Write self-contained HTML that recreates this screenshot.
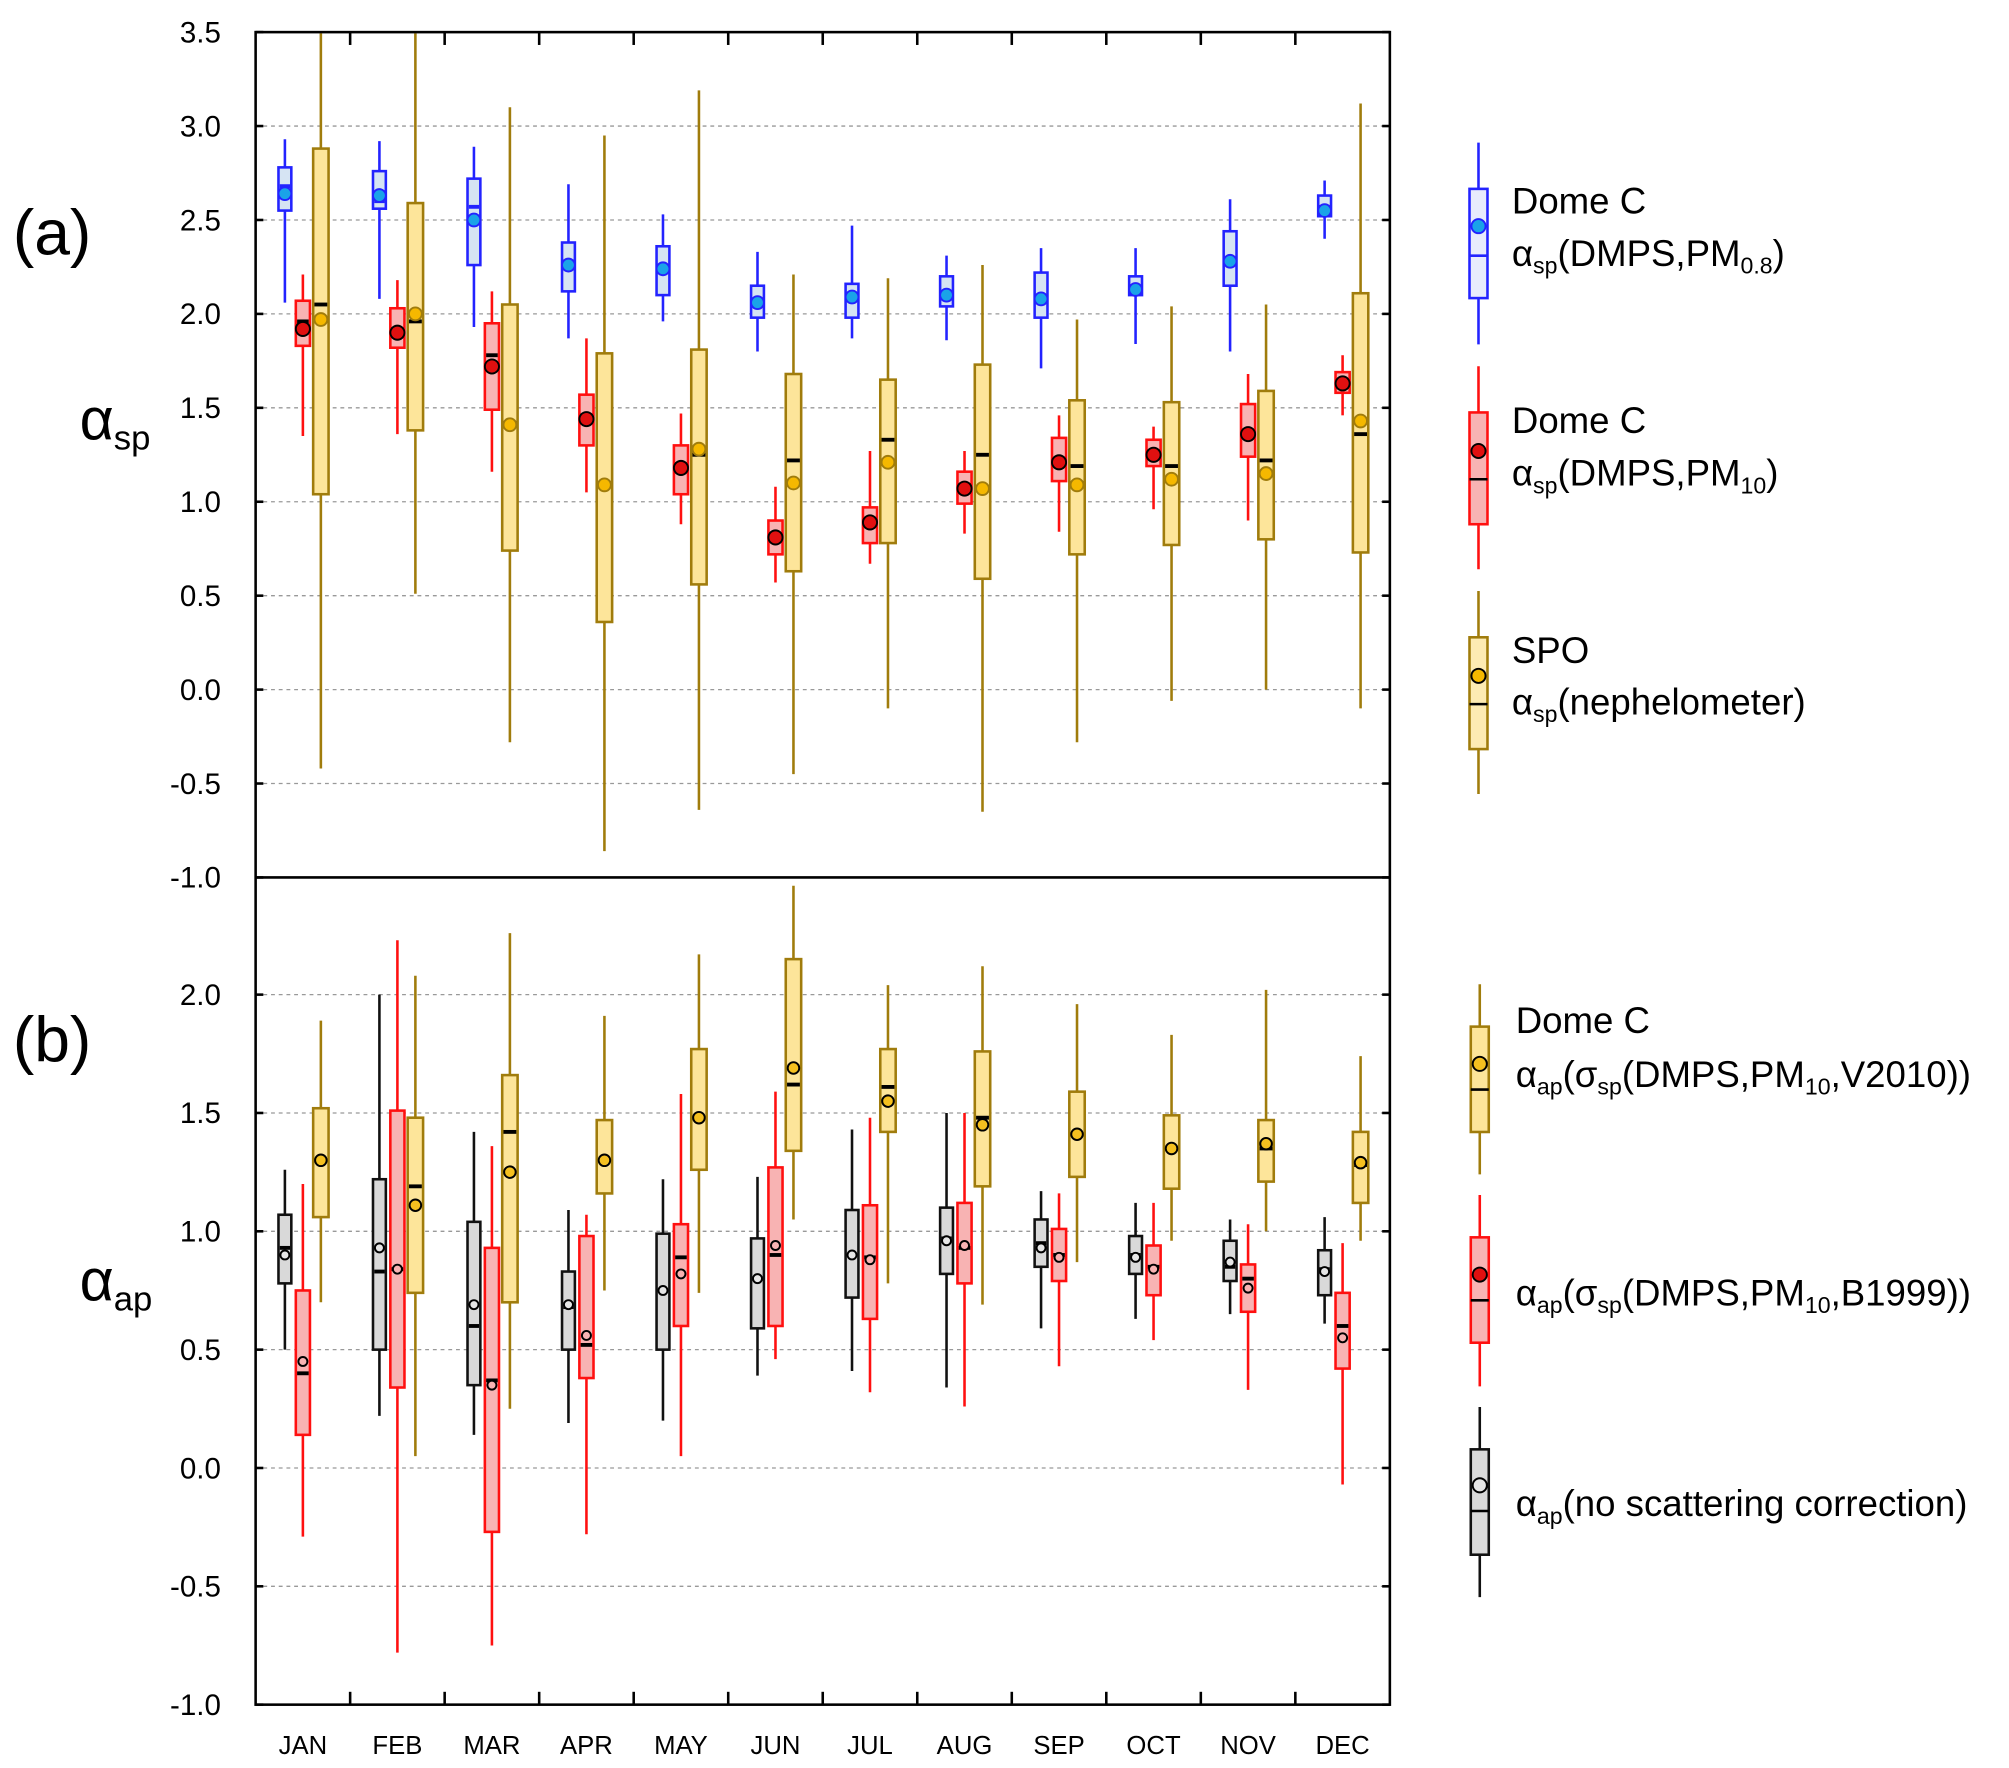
<!DOCTYPE html>
<html><head><meta charset="utf-8"><title>Seasonal alpha box plots</title>
<style>
html,body{margin:0;padding:0;background:#fff;}
svg{display:block;font-family:"Liberation Sans","DejaVu Sans",sans-serif;}
</style></head>
<body>
<svg id="chart" width="2009" height="1768" viewBox="0 0 1564 1376" preserveAspectRatio="none" xmlns="http://www.w3.org/2000/svg">
<rect x="0" y="0" width="1564" height="1376" fill="#fff"/>
<g id="grid"></g>
<g id="marks"></g>
<g id="axes"></g>
<g id="legend"></g>
<text x="10" y="198" font-size="50">(a)</text>
<text x="10" y="826" font-size="50">(b)</text>
<text x="62" y="342" font-size="46">α<tspan font-size="27" dy="8">sp</tspan></text>
<text x="62" y="1012" font-size="46">α<tspan font-size="27" dy="8">ap</tspan></text>
</svg>
<script>
// Categories and ticks
const months = ["JAN","FEB","MAR","APR","MAY","JUN","JUL","AUG","SEP","OCT","NOV","DEC"];
const ticksA = ["3.5","3.0","2.5","2.0","1.5","1.0","0.5","0.0","-0.5","-1.0"];
const ticksB = ["2.0","1.5","1.0","0.5","0.0","-0.5","-1.0"];
// Panel a series: [low whisker, q1, median, q3, high whisker, mean]
const blueA = [[2.06,2.55,2.68,2.78,2.93,2.64],[2.08,2.56,2.60,2.76,2.92,2.63],[1.93,2.26,2.57,2.72,2.89,2.50],[1.87,2.12,2.28,2.38,2.69,2.26],[1.96,2.10,2.25,2.36,2.53,2.24],[1.80,1.98,2.05,2.15,2.33,2.06],[1.87,1.98,2.09,2.16,2.47,2.09],[1.86,2.04,2.10,2.20,2.31,2.10],[1.71,1.98,2.08,2.22,2.35,2.08],[1.84,2.10,2.14,2.20,2.35,2.13],[1.80,2.15,2.28,2.44,2.61,2.28],[2.40,2.52,2.57,2.63,2.71,2.55]];
const redA = [[1.35,1.83,1.96,2.07,2.21,1.92],[1.36,1.82,1.92,2.03,2.18,1.90],[1.16,1.49,1.78,1.95,2.12,1.72],[1.05,1.30,1.44,1.57,1.87,1.44],[0.88,1.04,1.20,1.30,1.47,1.18],[0.57,0.72,0.82,0.90,1.08,0.81],[0.67,0.78,0.90,0.97,1.27,0.89],[0.83,0.99,1.08,1.16,1.27,1.07],[0.84,1.11,1.22,1.34,1.46,1.21],[0.96,1.19,1.27,1.33,1.40,1.25],[0.90,1.24,1.38,1.52,1.68,1.36],[1.46,1.58,1.62,1.69,1.78,1.63]];
const yellowA = [[-0.42,1.04,2.05,2.88,3.5,1.97],[0.51,1.38,1.96,2.59,3.5,2.00],[-0.28,0.74,1.42,2.05,3.10,1.41],[-0.86,0.36,1.10,1.79,2.95,1.09],[-0.64,0.56,1.25,1.81,3.19,1.28],[-0.45,0.63,1.22,1.68,2.21,1.10],[-0.10,0.78,1.33,1.65,2.19,1.21],[-0.65,0.59,1.25,1.73,2.26,1.07],[-0.28,0.72,1.19,1.54,1.97,1.09],[-0.06,0.77,1.19,1.53,2.04,1.12],[0.00,0.80,1.22,1.59,2.05,1.15],[-0.10,0.73,1.36,2.11,3.12,1.43]];
// Panel b series
const greyB = [[0.50,0.78,0.93,1.07,1.26,0.90],[0.22,0.50,0.83,1.22,2.00,0.93],[0.14,0.35,0.60,1.04,1.42,0.69],[0.19,0.50,0.68,0.83,1.09,0.69],[0.20,0.50,0.75,0.99,1.22,0.75],[0.39,0.59,0.80,0.97,1.23,0.80],[0.41,0.72,0.90,1.09,1.43,0.90],[0.34,0.82,0.97,1.10,1.50,0.96],[0.59,0.85,0.95,1.05,1.17,0.93],[0.63,0.82,0.90,0.98,1.12,0.89],[0.65,0.79,0.85,0.96,1.05,0.87],[0.61,0.73,0.84,0.92,1.06,0.83]];
const redB = [[-0.29,0.14,0.40,0.75,1.20,0.45],[-0.78,0.34,0.84,1.51,2.23,0.84],[-0.75,-0.27,0.37,0.93,1.36,0.35],[-0.28,0.38,0.52,0.98,1.07,0.56],[0.05,0.60,0.89,1.03,1.58,0.82],[0.46,0.60,0.90,1.27,1.59,0.94],[0.32,0.63,0.89,1.11,1.48,0.88],[0.26,0.78,0.93,1.12,1.50,0.94],[0.43,0.79,0.90,1.01,1.16,0.89],[0.54,0.73,0.85,0.94,1.12,0.84],[0.33,0.66,0.80,0.86,1.03,0.76],[-0.07,0.42,0.60,0.74,0.95,0.55]];
const yellowB = [[0.70,1.06,1.30,1.52,1.89,1.30],[0.05,0.74,1.19,1.48,2.08,1.11],[0.25,0.70,1.42,1.66,2.26,1.25],[0.75,1.16,1.30,1.47,1.91,1.30],[0.74,1.26,1.48,1.77,2.17,1.48],[1.05,1.34,1.62,2.15,2.46,1.69],[0.78,1.42,1.61,1.77,2.04,1.55],[0.69,1.19,1.48,1.76,2.12,1.45],[0.87,1.23,1.41,1.59,1.96,1.41],[0.96,1.18,1.35,1.49,1.83,1.35],[1.00,1.21,1.35,1.47,2.02,1.37],[0.96,1.12,1.28,1.42,1.74,1.29]];

const NS="http://www.w3.org/2000/svg";
const X0=199, X1=1082, MW=(X1-X0)/12;
const yA=v=>25+(3.5-v)*146.2;
const yB=v=>682+(2.5-v)*184.2;
const xM=(i,off)=>X0+MW*(i+0.5)+off;
function mk(tag,attrs,parent){const e=document.createElementNS(NS,tag);for(const k in attrs)e.setAttribute(k,attrs[k]);parent.appendChild(e);return e;}
const grid=document.getElementById('grid'),marks=document.getElementById('marks'),axes=document.getElementById('axes'),legend=document.getElementById('legend');

ticksA.forEach(t=>{const v=parseFloat(t),y=yA(v);
 if(v<3.5&&v>-1){const l=mk('line',{x1:X0,x2:X1,y1:y,y2:y,stroke:'#999','stroke-width':1,'stroke-dasharray':'3,3'},grid);
 
 }
 const tx=mk('text',{x:172,y:y+8,'font-size':23,'text-anchor':'end'},axes);tx.textContent=t;
 
 
 mk('line',{x1:X0,x2:X0+6,y1:y,y2:y,stroke:'#000','stroke-width':2},axes);
 mk('line',{x1:X1-6,x2:X1,y1:y,y2:y,stroke:'#000','stroke-width':2},axes);
});
ticksB.forEach(t=>{const v=parseFloat(t),y=yB(v);
 if(v>-1){const l=mk('line',{x1:X0,x2:X1,y1:y,y2:y,stroke:'#999','stroke-width':1,'stroke-dasharray':'3,3'},grid);
 
 }
 const tx=mk('text',{x:172,y:y+8,'font-size':23,'text-anchor':'end'},axes);tx.textContent=t;
 
 
 mk('line',{x1:X0,x2:X0+6,y1:y,y2:y,stroke:'#000','stroke-width':2},axes);
 mk('line',{x1:X1-6,x2:X1,y1:y,y2:y,stroke:'#000','stroke-width':2},axes);
});
mk('rect',{x:X0,y:25,width:X1-X0,height:yB(-1)-25,fill:'none',stroke:'#000','stroke-width':2},axes);
mk('line',{x1:X0,x2:X1,y1:yA(-1),y2:yA(-1),stroke:'#000','stroke-width':2},axes);
for(let k=1;k<12;k++){const x=X0+MW*k;
 mk('line',{x1:x,x2:x,y1:25,y2:35,stroke:'#000','stroke-width':2},axes);
 mk('line',{x1:x,x2:x,y1:yB(-1)-10,y2:yB(-1),stroke:'#000','stroke-width':2},axes);}
months.forEach((m,i)=>{const t=mk('text',{x:xM(i,0),y:1365,'font-size':20,'text-anchor':'middle'},axes);t.textContent=m;
 
 });

function box(g,x,w,d,yf,st,fill,medc,meanFill,meanStroke,r,name,clipTop){
 const [lo,q1,med,q3,hi,mean]=d;
 const grp=mk('g',{},g);
 
 
 let yh=yf(hi); if(clipTop!==undefined) yh=Math.max(yh,clipTop);
 mk('line',{x1:x,x2:x,y1:yh,y2:yf(lo),stroke:st,'stroke-width':2},grp);
 mk('rect',{x:x-w/2,y:yf(q3),width:w,height:yf(q1)-yf(q3),fill:fill,stroke:st,'stroke-width':2},grp);
 mk('line',{x1:x-w/2+1,x2:x+w/2-1,y1:yf(med),y2:yf(med),stroke:medc,'stroke-width':3},grp);
 mk('circle',{cx:x,cy:yf(mean),r:r,fill:meanFill,stroke:meanStroke,'stroke-width':1.5},grp);
}
const BL='#2323ff',RD='#ff1010',YL='#a07c0c',GR='#111';
months.forEach((m,i)=>{
 const k=m.toLowerCase();
 box(marks,xM(i,-14),10,blueA[i],yA,BL,'#d6e4f3',BL,'#1aa3e8',BL,5,'box-dmps-pm08-'+k,26);
 box(marks,xM(i,0),11,redA[i],yA,RD,'#f8b3b3','#000','#e01010','#000',5.5,'box-dmps-pm10-'+k,26);
 box(marks,xM(i,14),12,yellowA[i],yA,YL,'#fde59a','#000','#f5b800',YL,5,'box-nephelometer-'+k,26);
 box(marks,xM(i,-14),10,greyB[i],yB,GR,'#d9d9d9','#000','#e6e6e6','#000',3.5,'box-ap-nocorr-'+k);
 box(marks,xM(i,0),11,redB[i],yB,RD,'#f8b3b3','#000','#f8b3b3','#000',3.5,'box-ap-b1999-'+k);
 box(marks,xM(i,14),12,yellowB[i],yB,YL,'#fde59a','#000','#f5c020','#000',4.5,'box-ap-v2010-'+k);
});

function lg(x,wl,bt,bb,med,mean,wh,st,fill,meanFill,meanStroke,medc,name){
 const g=mk('g',{},legend);
 
 
 mk('line',{x1:x,x2:x,y1:wl,y2:wh,stroke:st,'stroke-width':2},g);
 mk('rect',{x:x-7,y:bt,width:14,height:bb-bt,fill:fill,stroke:st,'stroke-width':2},g);
 mk('line',{x1:x-7,x2:x+7,y1:med,y2:med,stroke:medc,'stroke-width':2},g);
 mk('circle',{cx:x,cy:mean,r:5.5,fill:meanFill,stroke:meanStroke,'stroke-width':1.5},g);
}
lg(1151,111,147,232,199,176,268,BL,'#e8ebfc','#1aa3e8',BL,BL,'legend-marker-dmps-pm08');
lg(1151,285,321,408,373,351,443,RD,'#f8b3b3','#e01010','#000','#000','legend-marker-dmps-pm10');
lg(1151,460,496,583,548,526,618,YL,'#fdebb3','#f5b800','#000','#000','legend-marker-nephelometer');
lg(1152,766,799,881,848,828,914,YL,'#fde59a','#f5c020','#000','#000','legend-marker-ap-v2010');
lg(1152,930,963,1045,1012,992,1079,RD,'#f8b3b3','#e01010','#000','#000','legend-marker-ap-b1999');
lg(1152,1095,1128,1210,1176,1156,1243,GR,'#d9d9d9','#e6e6e6','#000','#000','legend-marker-ap-nocorr');
function lt(x,y,html,name){const t=mk('text',{x:x,y:y,'font-size':28.5},legend);t.innerHTML=html;
 
 }
const sub=(s)=>'<tspan font-size="18" dy="6">'+s+'</tspan><tspan dy="-6">';
lt(1177,166,'Dome C','legend-text-dmps-pm08-title');
lt(1177,207,'α'+sub('sp')+'(DMPS,PM'+sub('0.8')+')</tspan></tspan>','legend-text-dmps-pm08');
lt(1177,337,'Dome C','legend-text-dmps-pm10-title');
lt(1177,378,'α'+sub('sp')+'(DMPS,PM'+sub('10')+')</tspan></tspan>','legend-text-dmps-pm10');
lt(1177,516,'SPO','legend-text-spo-title');
lt(1177,556,'α'+sub('sp')+'(nephelometer)</tspan>','legend-text-nephelometer');
lt(1180,804,'Dome C','legend-text-ap-title');
lt(1180,846,'α'+sub('ap')+'(σ'+sub('sp')+'(DMPS,PM'+sub('10')+',V2010))</tspan></tspan></tspan>','legend-text-ap-v2010');
lt(1180,1016,'α'+sub('ap')+'(σ'+sub('sp')+'(DMPS,PM'+sub('10')+',B1999))</tspan></tspan></tspan>','legend-text-ap-b1999');
lt(1180,1180,'α'+sub('ap')+'(no scattering correction)</tspan>','legend-text-ap-nocorr');
</script>
</body></html>
